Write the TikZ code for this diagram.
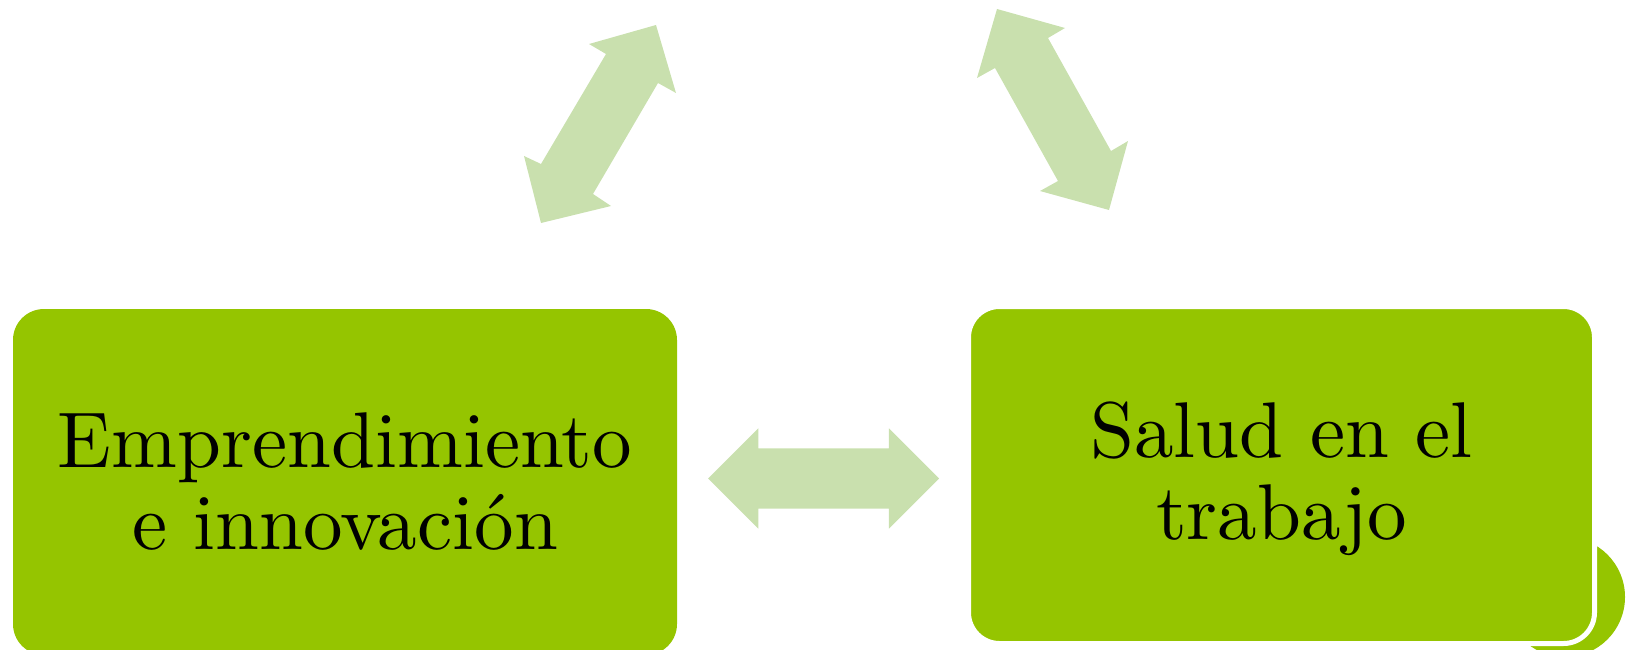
\documentclass[tikz,border=0pt]{standalone}
\usepackage{fontspec}
\usetikzlibrary{shapes.arrows}
\newfontfamily\letradiez{lmroman10-regular.otf}
\definecolor{verdeCaja}{RGB}{149,197,0}
\definecolor{verdeFlecha}{RGB}{201,224,174}
\tikzset{
  caja/.style={fill=verdeCaja, rounded corners=31pt, inner sep=0pt, align=center,
    font=\letradiez\fontsize{79}{82}\selectfont},
  flecha/.style={fill=verdeFlecha},
}
\begin{document}
\begin{tikzpicture}[x=1pt,y=-1pt]
\useasboundingbox (0,0) rectangle (1628,650);

\fill[verdeCaja] (1565,597) circle (60pt);

\node[caja, minimum width=664pt, minimum height=346pt] (emp) at (345,482) {Emprendimiento\\e innovación};
\node[caja, draw=white, line width=5pt, minimum width=626pt, minimum height=337pt, text depth=8pt] (sal) at (1281.5,475) {Salud en el\\trabajo};

\path (emp.east) -- (sal.west) node[midway, xshift=2pt, double arrow, flecha, inner xsep=0pt, inner ysep=30pt,
  minimum height=231pt, double arrow head extend=20pt] (ida) {};

\fill[flecha] (656,25) -- (676,93) -- (658,83) -- (593,194) -- (611,206) -- (541,223)
  -- (524,156) -- (541,164) -- (606,54) -- (589,44) -- cycle;
\fill[flecha] (997,9) -- (1065,28) -- (1048,38) -- (1111,151) -- (1128,141) -- (1109,210)
  -- (1040,191) -- (1058,181) -- (995,68) -- (977,78) -- cycle;
\end{tikzpicture}
\end{document}
